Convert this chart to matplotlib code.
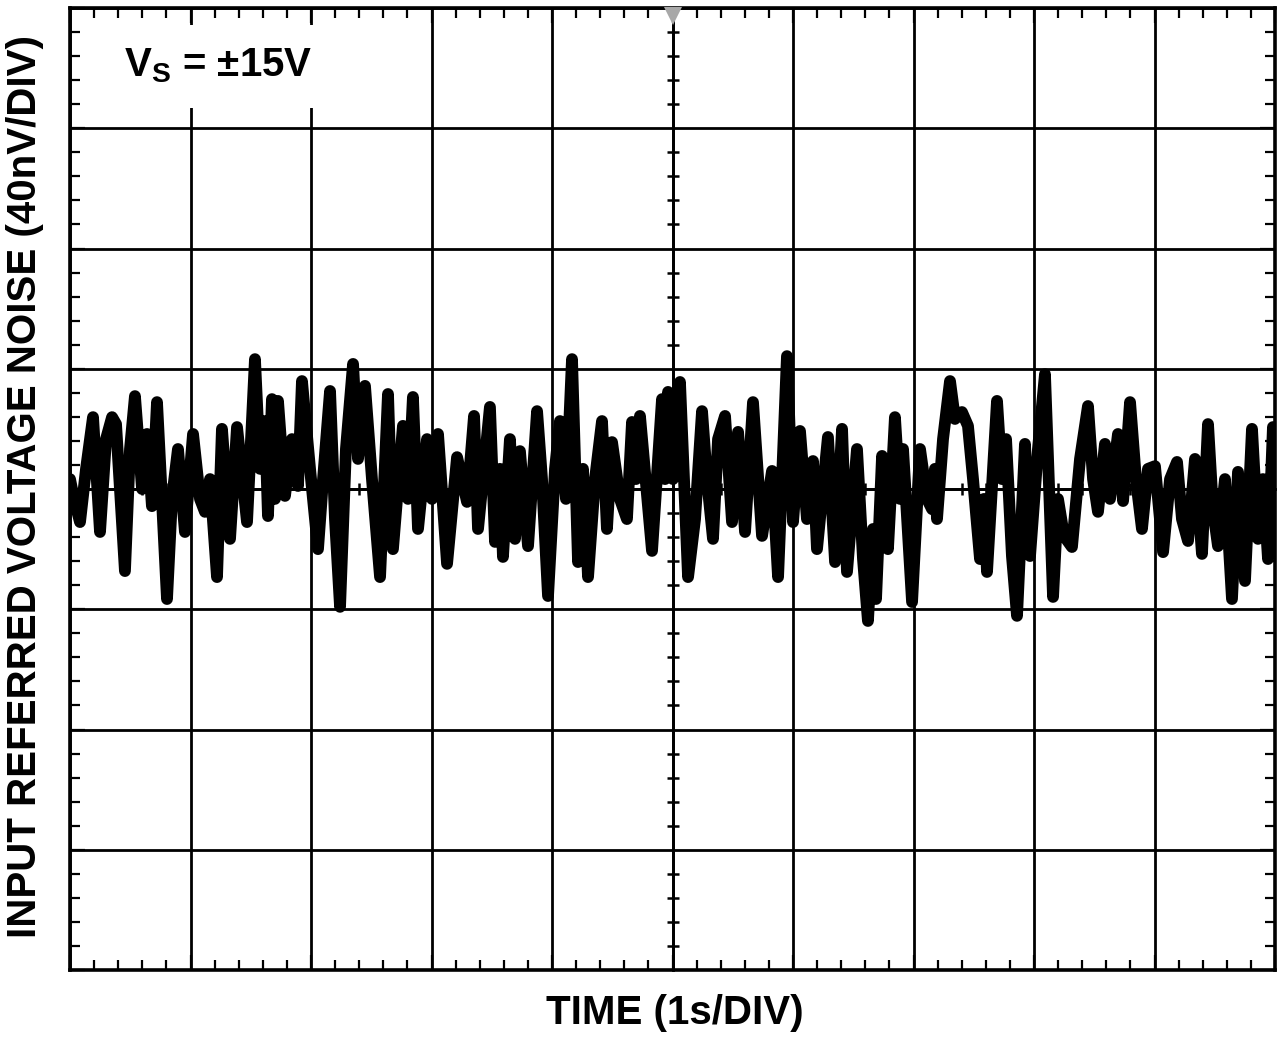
import matplotlib
matplotlib.use("Agg")
import matplotlib.pyplot as plt
from matplotlib.patches import Rectangle
from matplotlib.ticker import MultipleLocator, NullFormatter

plt.rcParams['font.family'] = ['Liberation Sans', 'DejaVu Sans']
plt.rcParams['font.weight'] = 'bold'
plt.rcParams['mathtext.fontset'] = 'custom'
plt.rcParams['mathtext.bf'] = 'Liberation Sans:bold'
plt.rcParams['mathtext.rm'] = 'Liberation Sans:bold'

# scope trace: time in s (1s/div), noise in nV (40nV/div)
time_s = [
    0.000, 0.033, 0.083, 0.133, 0.191, 0.249, 0.299, 0.349, 0.382, 0.456,
    0.498, 0.539, 0.598, 0.639, 0.680, 0.722, 0.805, 0.846, 0.896, 0.954,
    1.021, 1.079, 1.120, 1.162, 1.220, 1.261, 1.328, 1.386, 1.469, 1.535,
    1.577, 1.618, 1.643, 1.676, 1.701, 1.726, 1.784, 1.842, 1.892, 1.925,
    1.992, 2.058, 2.100, 2.158, 2.199, 2.241, 2.290, 2.349, 2.390, 2.448,
    2.506, 2.573, 2.639, 2.680, 2.763, 2.805, 2.846, 2.888, 2.963, 3.004,
    3.054, 3.129, 3.212, 3.295, 3.353, 3.386, 3.485, 3.527, 3.568, 3.593,
    3.651, 3.693, 3.734, 3.801, 3.876, 3.917, 3.967, 4.025, 4.066, 4.116,
    4.166, 4.216, 4.257, 4.299, 4.357, 4.415, 4.456, 4.498, 4.564, 4.622,
    4.664, 4.697, 4.730, 4.830, 4.913, 4.938, 4.963, 5.004, 5.062, 5.129,
    5.187, 5.245, 5.286, 5.336, 5.378, 5.436, 5.494, 5.544, 5.602, 5.668,
    5.743, 5.826, 5.876, 5.950, 6.000, 6.058, 6.116, 6.166, 6.199, 6.290,
    6.349, 6.407, 6.448, 6.531, 6.581, 6.622, 6.664, 6.689, 6.739, 6.788,
    6.846, 6.888, 6.913, 6.988, 7.054, 7.112, 7.154, 7.178, 7.195, 7.245,
    7.303, 7.344, 7.402, 7.452, 7.494, 7.552, 7.585, 7.610, 7.693, 7.734,
    7.768, 7.817, 7.859, 7.925, 7.967, 8.033, 8.091, 8.158, 8.199, 8.249,
    8.315, 8.382, 8.448, 8.490, 8.531, 8.589, 8.631, 8.697, 8.739, 8.797,
    8.846, 8.896, 8.946, 9.004, 9.071, 9.129, 9.187, 9.228, 9.278, 9.336,
    9.394, 9.444, 9.485, 9.527, 9.585, 9.643, 9.693, 9.751, 9.809, 9.859,
    9.900, 9.942, 9.983, 10.000,
]
noise_nv = [
    3.3, -3.3, -11.0, 6.7, 23.9, -14.3, 16.6, 23.9, 21.6, -27.3,
    13.3, 30.9, 0.0, 18.3, -5.7, 28.9, -36.6, -3.3, 13.3, -14.3,
    18.3, -3.3, -7.6, 3.3, -29.3, 20.0, -16.6, 20.6, -11.0, 43.2,
    6.7, 22.6, -9.0, 29.9, -3.3, 29.3, -2.3, 16.6, 1.0, 35.9,
    6.7, -20.0, 3.3, 32.6, -10.0, -39.2, 13.3, 41.6, 10.0, 34.3,
    3.3, -29.3, 31.6, -20.0, 21.0, -3.3, 30.6, -13.3, 16.6, -3.3,
    18.3, -24.9, 10.6, -4.3, 24.3, -13.3, 27.3, -17.6, 6.7, -22.6,
    16.6, -16.6, 12.6, -19.0, 25.9, 3.3, -35.6, 6.7, 22.6, -3.3,
    43.2, -24.3, 6.7, -29.3, 3.3, 22.6, -13.3, 15.6, -3.3, -10.0,
    22.3, 3.3, 24.3, -20.6, 29.9, 3.3, 32.3, 3.3, 35.6, -29.3,
    -10.0, 25.9, 3.3, -16.6, 16.6, 24.3, -11.0, 19.0, -14.3, 28.9,
    -15.6, 6.0, -29.3, 44.2, -11.0, 19.3, -10.0, 9.3, -20.0, 17.3,
    -24.3, 20.0, -27.6, 13.3, -23.3, -43.9, -13.3, -36.6, 11.0, -20.0,
    23.9, -3.3, 13.3, -37.6, 13.3, -3.3, -6.7, 6.7, -10.0, 16.6,
    35.9, 23.3, 25.6, 21.0, 3.3, -23.3, -3.3, -27.6, 29.3, 3.3,
    16.6, -22.3, -42.2, 15.0, -22.3, 13.3, 38.2, -35.9, -3.3, -15.6,
    -19.3, 10.0, 27.6, 3.3, -7.6, 15.0, -3.3, 18.3, -4.0, 28.9,
    3.3, -13.3, 6.7, 7.6, -21.0, 3.3, 9.0, -10.0, -17.3, 10.0,
    -21.6, 21.6, -6.7, -19.0, 3.3, -36.6, 5.7, -30.6, 20.0, -16.6,
    3.3, -23.3, 20.6, 3.3,
]

x_range = (0, 10)        # 10 divisions of 1 s
y_range = (-160, 160)    # 8 divisions of 40 nV
x_label = "TIME (1s/DIV)"
y_label = "INPUT REFERRED VOLTAGE NOISE (40nV/DIV)"
supply_label = r"$\mathbf{V_S}$ = ±15V"

fig = plt.figure(figsize=(12.8, 10.38), dpi=100)
pos = [70 / 1280, 68 / 1038, 1205 / 1280, 962 / 1038]
ax = fig.add_axes(pos)
ax.set_xlim(*x_range)
ax.set_ylim(*y_range)

# grid on every division
ax.xaxis.set_major_locator(MultipleLocator(1))
ax.yaxis.set_major_locator(MultipleLocator(40))
ax.xaxis.set_minor_locator(MultipleLocator(0.2))
ax.yaxis.set_minor_locator(MultipleLocator(8))
ax.xaxis.set_major_formatter(NullFormatter())
ax.yaxis.set_major_formatter(NullFormatter())
ax.grid(True, which='major', color='black', linewidth=2.0, zorder=1)
ax.tick_params(which='both', direction='in', top=True, right=True, color='black')
ax.tick_params(which='major', length=11, width=1.6)
ax.tick_params(which='minor', length=7, width=1.6)
for s in ax.spines.values():
    s.set_linewidth(2.6)
    s.set_zorder(6)

# white patch behind the supply label (hides the grid there)
ax.add_patch(Rectangle((0.012, 0.896), 0.28, 0.086, transform=ax.transAxes,
                       facecolor='white', edgecolor='none', zorder=2))
ax.text(0.045, 0.94, supply_label, transform=ax.transAxes, fontsize=29,
        fontweight='bold', ha='left', va='center', zorder=3)

# center cross with ticks on both sides
ax2 = fig.add_axes(pos, sharex=ax, sharey=ax)
ax2.patch.set_visible(False)
ax2.spines['top'].set_visible(False)
ax2.spines['right'].set_visible(False)
ax2.spines['left'].set_position(('data', 5))
ax2.spines['bottom'].set_position(('data', 0))
ax2.spines['left'].set_linewidth(2.0)
ax2.spines['bottom'].set_linewidth(2.0)
ax2.tick_params(which='both', direction='inout', top=False, right=False)
ax2.tick_params(which='major', length=0)
ax2.tick_params(which='minor', length=9, width=1.8)
ax2.xaxis.set_major_formatter(NullFormatter())
ax2.yaxis.set_major_formatter(NullFormatter())
ax2.grid(False)

# trace
ax2.plot(time_s, noise_nv, color='black', linewidth=8.5,
         solid_joinstyle='round', solid_capstyle='round', zorder=4)

# trigger marker at the top
ax2.plot([5], [157.5], marker='v', markersize=13, color='#a8a8a8',
         markeredgewidth=0, clip_on=False, zorder=7)

fig.text(675 / 1280, 1 - 1013 / 1038, x_label, fontsize=29,
         fontweight='bold', ha='center', va='center')
fig.text(25 / 1280, 1 - 487 / 1038, y_label, fontsize=29,
         fontweight='bold', ha='center', va='center', rotation=90)

fig.savefig("out.png", dpi=100)
